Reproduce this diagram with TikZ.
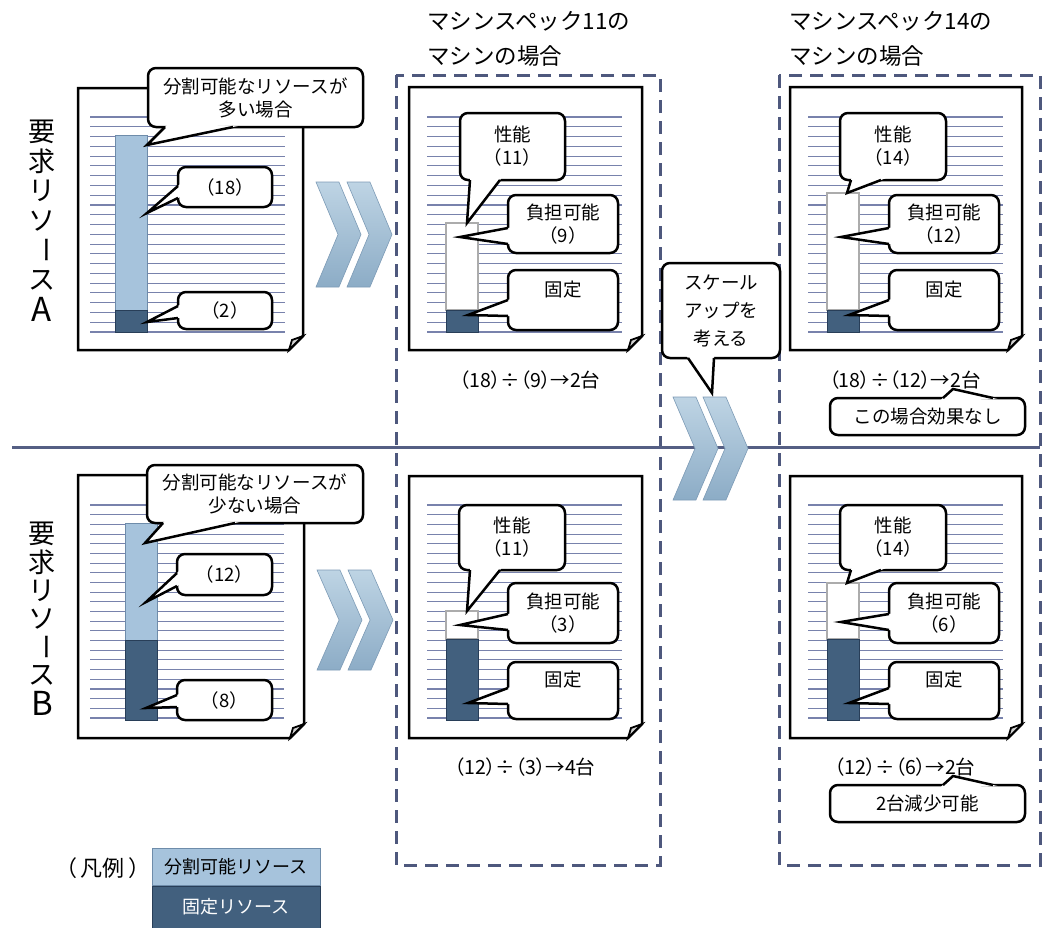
\documentclass[tikz,border=0pt]{standalone}
\usepackage{fontspec}
\setmainfont{Noto Sans CJK JP}
\usetikzlibrary{calc}
\definecolor{plinec}{RGB}{120,130,172}
\definecolor{dashc}{RGB}{78,88,125}
\definecolor{sepc}{RGB}{85,95,132}
\definecolor{lbarc}{RGB}{166,195,220}
\definecolor{lbarb}{RGB}{110,140,170}
\definecolor{dbarc}{RGB}{66,96,126}
\definecolor{dbarb}{RGB}{40,62,88}
\definecolor{chevtop}{RGB}{190,212,228}
\definecolor{chevbot}{RGB}{140,172,198}
\definecolor{chevedge}{RGB}{125,155,182}
\tikzset{
  pagesty/.style={draw=black, line width=2.5pt, fill=white, line join=miter},
  plinesty/.style={draw=plinec, line width=1.1pt},
  cbox/.style={draw=black, line width=2.5pt, fill=white, rounded corners=8pt, align=center, inner sep=2pt, font=\fontsize{18.5}{23}\selectfont},
  cline/.style={draw=black, line width=2.5pt, line join=miter, miter limit=30},
  lbar/.style={fill=lbarc, draw=lbarb, line width=1pt},
  dbar/.style={fill=dbarc, draw=dbarb, line width=1pt},
  wbar/.style={fill=white, draw=gray!65, line width=1.6pt},
  dashbox/.style={draw=dashc, line width=3pt, dash pattern=on 13pt off 8pt},
  sepline/.style={draw=sepc, line width=3pt},
  chevsty/.style={top color=chevtop, bottom color=chevbot, draw=chevedge, line width=0.6pt},
  titlesty/.style={font=\fontsize{22.5}{26}\selectfont, inner sep=0pt},
  vch/.style={font=\fontsize{27}{29}\selectfont, inner sep=0pt},
  vlat/.style={font=\fontsize{33}{35}\selectfont, inner sep=0pt},
  calcsty/.style={font=\fontsize{19.5}{22}\selectfont\addfontfeatures{RawFeature=+palt}, inner sep=0pt},
}
\newcommand\pagebox[4]{%
  \draw[pagesty] (#1,#2) -- (#3,#2) -- (#3,#4-14) -- (#3-14,#4) -- (#1,#4) -- cycle;
  \draw[draw=black, line width=1.8pt, fill=gray!35, line join=miter] (#3-14,#4) -- (#3-11,#4-10) -- (#3,#4-14) -- cycle;}
\newcommand\plines[4]{%
  \foreach \i in {0,...,22}{\draw[plinesty] (#1,{#2+\i*(#4-#2)/22}) -- (#3,{#2+\i*(#4-#2)/22});}}
\newcommand\cbx[6]{%
  \node[cbox, minimum width={#3-#1}, minimum height={#4-#2}] (#5) at ({(#1+#3)/2},{(#2+#4)/2}) {#6};}
\newcommand\cptr[3]{%
  \coordinate (pA) at #1; \coordinate (pT) at #2; \coordinate (pB) at #3;
  \fill[white] ($(pA)!-5pt!(pT)$) -- (pT) -- ($(pB)!-5pt!(pT)$) -- cycle;
  \draw[cline] (pA) -- (pT) -- (pB);}
\newcommand\chev[4]{%
  \path[chevsty] (#1,#2) -- ({#1+#4*0.51},#2) -- ({#1+#4},{(#2+#3)/2}) -- ({#1+#4*0.51},#3) -- (#1,#3) -- ({#1+#4*0.49},{(#2+#3)/2}) -- cycle;}
% vertical label: #1 prefix, #2 x, #3 first y, #4 pitch, #5 last letter
\newcommand\vlabel[5]{%
  \node[vch] (#1a) at (#2,{#3}) {要};
  \node[vch] (#1b) at (#2,{#3+#4}) {求};
  \node[vch] (#1c) at (#2,{#3+2*#4}) {リ};
  \node[vch] (#1d) at (#2,{#3+3*#4}) {ソ};
  \node[vch, rotate=-90] (#1e) at (#2,{#3+4*#4}) {ー};
  \node[vch] (#1f) at (#2,{#3+5*#4}) {ス};
  \node[vlat] (#1g) at (#2,{#3+6*#4}) {#5};}
\begin{document}
\begin{tikzpicture}[x=1pt,y=-1pt]
\useasboundingbox (0,0) rectangle (1047,927);
\fill[white] (0,0) rectangle (1047,927);

% titles
\node[titlesty, anchor=west] (t1a) at (427,21) {マシンスペック11の};
\node[titlesty, anchor=west] (t1b) at (427,56) {マシンの場合};
\node[titlesty, anchor=west] (t2a) at (789,21) {マシンスペック14の};
\node[titlesty, anchor=west] (t2b) at (789,56) {マシンの場合};

% dashed frames and separator
\draw[dashbox] (396,75) rectangle (660,865);
\draw[dashbox] (779,75) rectangle (1040,865);
\draw[sepline] (12,447) -- (1040,447);

% left labels
\vlabel{labA}{42}{132}{29.6}{A}
\vlabel{labB}{42}{534}{28.2}{B}

% ===== Row A, left =====
\pagebox{78}{88}{303}{350}
\plines{90}{117}{285}{332}
\draw[lbar] (115,135) rectangle (147,310);
\draw[dbar] (115,310) rectangle (147,332);
\cbx{148}{68}{363}{127}{cA1}{分割可能なリソースが\\多い場合}
\cptr{(165,127)}{(147,145)}{(233,127)}
\cbx{178}{167}{272}{207}{cA2}{（18）}
\cptr{(178,186)}{(147,213)}{(178,198)}
\cbx{178}{292}{272}{329}{cA3}{（2）}
\cptr{(178,306)}{(147,322)}{(178,318)}

% ===== Row B, left =====
\pagebox{78}{475}{304}{738}
\plines{90}{505}{284}{718}
\draw[lbar] (125,523) rectangle (157,640);
\draw[dbar] (125,640) rectangle (157,720);
\cbx{147}{465}{363}{523}{cB1}{分割可能なリソースが\\少ない場合}
\cptr{(163,523)}{(145,543)}{(235,523)}
\cbx{177}{554}{272}{595}{cB2}{（12）}
\cptr{(177,573)}{(146,602)}{(177,586)}
\cbx{177}{680}{272}{720}{cB3}{（8）}
\cptr{(177,695)}{(146,708)}{(177,707)}

% ===== Row A, middle =====
\pagebox{409}{87}{642}{350}
\plines{427}{117}{622}{332}
\draw[wbar] (446,223) rectangle (478,310);
\draw[dbar] (446,310) rectangle (478,332);
\cbx{460}{113}{565}{180}{mA1}{性能\\（11）}
\cptr{(470,180)}{(467,223)}{(500,180)}
\cbx{508}{195}{618}{253}{mA2}{負担可能\\（9）}
\cptr{(508,228)}{(460,237)}{(508,244)}
\cbx{508}{270}{618}{330}{mA3}{固定\\\mbox{}}
\cptr{(508,300)}{(468,315)}{(508,316)}
\node[calcsty] (eqA1) at (530,380) {（18）÷（9）→2台};

% ===== Row B, middle =====
\pagebox{409}{476}{642}{738}
\plines{427}{505}{622}{718}
\draw[wbar] (446,611) rectangle (478,639);
\draw[dbar] (446,639) rectangle (478,720);
\cbx{459}{505}{565}{570}{mB1}{性能\\（11）}
\cptr{(470,570)}{(467,611)}{(500,570)}
\cbx{508}{583}{618}{643}{mB2}{負担可能\\（3）}
\cptr{(508,614)}{(460,625)}{(508,630)}
\cbx{508}{662}{618}{719}{mB3}{固定\\\mbox{}}
\cptr{(508,688)}{(468,703)}{(508,704)}
\node[calcsty] (eqB1) at (525,767) {（12）÷（3）→4台};

% ===== Row A, right =====
\pagebox{790}{87}{1022}{350}
\plines{808}{117}{1003}{332}
\draw[wbar] (827,193) rectangle (859,310);
\draw[dbar] (827,310) rectangle (859,332);
\cbx{840}{113}{946}{180}{rA1}{性能\\（14）}
\cptr{(851,180)}{(847,193)}{(881,180)}
\cbx{889}{195}{999}{253}{rA2}{負担可能\\（12）}
\cptr{(889,228)}{(841,237)}{(889,244)}
\cbx{889}{270}{999}{330}{rA3}{固定\\\mbox{}}
\cptr{(889,300)}{(849,315)}{(889,316)}
\node[calcsty] (eqA2) at (905,380) {（18）÷（12）→2台};
\cbx{830}{398}{1025}{435}{rA4}{この場合効果なし}
\cptr{(943,398)}{(953,389)}{(993,398)}

% ===== Row B, right =====
\pagebox{790}{476}{1022}{738}
\plines{808}{505}{1003}{718}
\draw[wbar] (827,583) rectangle (859,639);
\draw[dbar] (827,639) rectangle (859,720);
\cbx{840}{505}{946}{570}{rB1}{性能\\（14）}
\cptr{(851,570)}{(847,583)}{(881,570)}
\cbx{889}{583}{999}{643}{rB2}{負担可能\\（6）}
\cptr{(889,614)}{(841,622)}{(889,630)}
\cbx{889}{662}{999}{719}{rB3}{固定\\\mbox{}}
\cptr{(889,688)}{(849,703)}{(889,704)}
\node[calcsty] (eqB2) at (905,767) {（12）÷（6）→2台};
\cbx{830}{785}{1025}{822}{rB4}{2台減少可能}
\cptr{(943,785)}{(953,776)}{(993,785)}

% chevrons
\chev{316}{182}{287}{45}
\chev{347}{182}{287}{45}
\chev{317}{570}{670}{45}
\chev{348}{570}{670}{45}
\chev{673}{397}{500}{45}
\chev{703}{397}{500}{45}

% middle callout
\node[cbox, font=\fontsize{18.5}{28}\selectfont, minimum width=118, minimum height=95] (scale) at (721,310.5) {スケール\\アップを\\考える};
\cptr{(688,358)}{(712,393)}{(714,358)}

% legend
\node[font=\fontsize{22}{26}\selectfont, inner sep=0pt] (legt) at (103,868) {（\kern4pt 凡例\kern4pt）};
\node[fill=lbarc, draw=lbarb, line width=1pt, minimum width=168, minimum height=37, font=\fontsize{18}{21}\selectfont] (leg1) at (236,866.5) {分割可能リソース};
\node[fill=dbarc, draw=dbarb, line width=1pt, minimum width=168, minimum height=42, text=white, font=\fontsize{18}{21}\selectfont, anchor=north] (leg2) at (leg1.south) {固定リソース};
\end{tikzpicture}
\end{document}
